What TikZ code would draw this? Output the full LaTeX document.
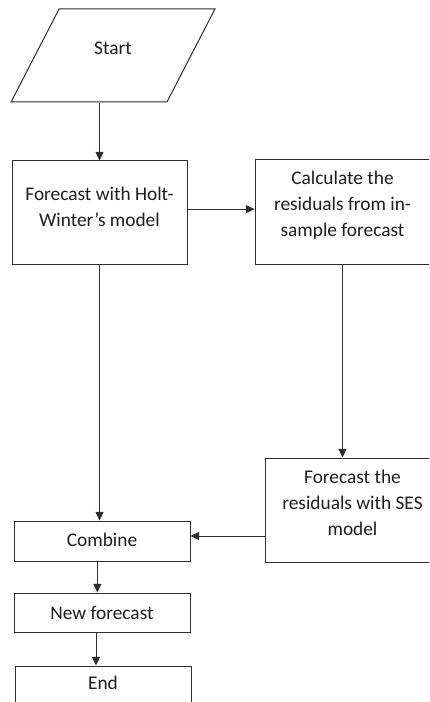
\documentclass[tikz,border=0pt]{standalone}
\usepackage{fontspec}
\setmainfont{Carlito}
\usetikzlibrary{
  shapes.geometric,
  arrows.meta,
  positioning,
  calc
}
\definecolor{LineGray}{RGB}{45,45,45}
\definecolor{TextGray}{RGB}{30,30,30}
\tikzset{
  %%-- boxes ------------------------------------------------
  stepbox/.style = {
    rectangle, draw = LineGray, fill = white,
    line width = 0.75pt, inner sep = 0pt,
    minimum width = 131.25pt, minimum height = 78pt
  },
  smallbox/.style = {
    stepbox, minimum width = 132pt, minimum height = 30pt
  },
  inbox/.style = {
    trapezium, draw = LineGray, fill = white,
    line width = 0.75pt, inner sep = 3pt,
    trapezium left angle = 66, trapezium right angle = 114,
    trapezium stretches = true,
    minimum width = 153pt, minimum height = 69.75pt
  },
  txt/.style = {
    align = center, text = TextGray, inner sep = 0pt,
    font = \fontsize{14.5}{19.5}\selectfont
  },
  %%-- arrows -----------------------------------------------
  arr/.style = {-{Triangle[length=6.5pt, width=6pt]}, line width = 0.75pt, color = LineGray},
}
\begin{document}
\begin{tikzpicture}[x=0.75pt, y=-0.75pt]
  \useasboundingbox (0,0) rectangle (429,702);
  \clip (0,0) rectangle (429,702);
  \fill[white] (0,0) rectangle (429,702);

  \node[inbox, label={[txt, yshift=5.5pt]center:Start}] (start) at (113,55.5) {};
  \node[stepbox, minimum height=77.25pt,
    label={[txt, yshift=4.5pt]center:{Forecast with Holt-\\Winter’s model}}] (holt) at (99.5,212.5) {};
  \node[stepbox,
    label={[txt, yshift=5.25pt]center:{Calculate the\\residuals from in-\\sample forecast}}] (calc) at (342.5,212) {};
  \node[stepbox,
    label={[txt, yshift=5.25pt]center:{Forecast the\\residuals with SES\\model}}] (resid) at (352.5,510) {};
  \node[smallbox, label={[txt, yshift=0.75pt]center:Combine}] (comb) at (102,541) {};
  \node[smallbox, minimum height=29.25pt,
    label={[txt]center:New forecast}] (newfc) at (102,612.5) {};
  \node[smallbox, label={[txt, yshift=2.25pt]center:End}] (finish) at (103,686) {};

  \draw[arr] (start.south -| holt.north) -- (holt.north);
  \draw[arr] ([yshift=2.5pt]holt.east) -- ([yshift=2.5pt]holt.east -| calc.west);
  \draw[arr] (calc.south) -- (calc.south |- resid.north);
  \draw[arr] ([yshift=3.75pt]comb.east -| resid.west) -- ([yshift=3.75pt]comb.east);
  \draw[arr] (holt.south) -- (holt.south |- comb.north);
  \draw[arr] ([xshift=-3.5pt]comb.south) -- ([xshift=-3.5pt]newfc.north);
  \draw[arr] ([xshift=-4.5pt]newfc.south) -- ([xshift=-4.5pt]newfc.south |- finish.north);
\end{tikzpicture}
\end{document}
